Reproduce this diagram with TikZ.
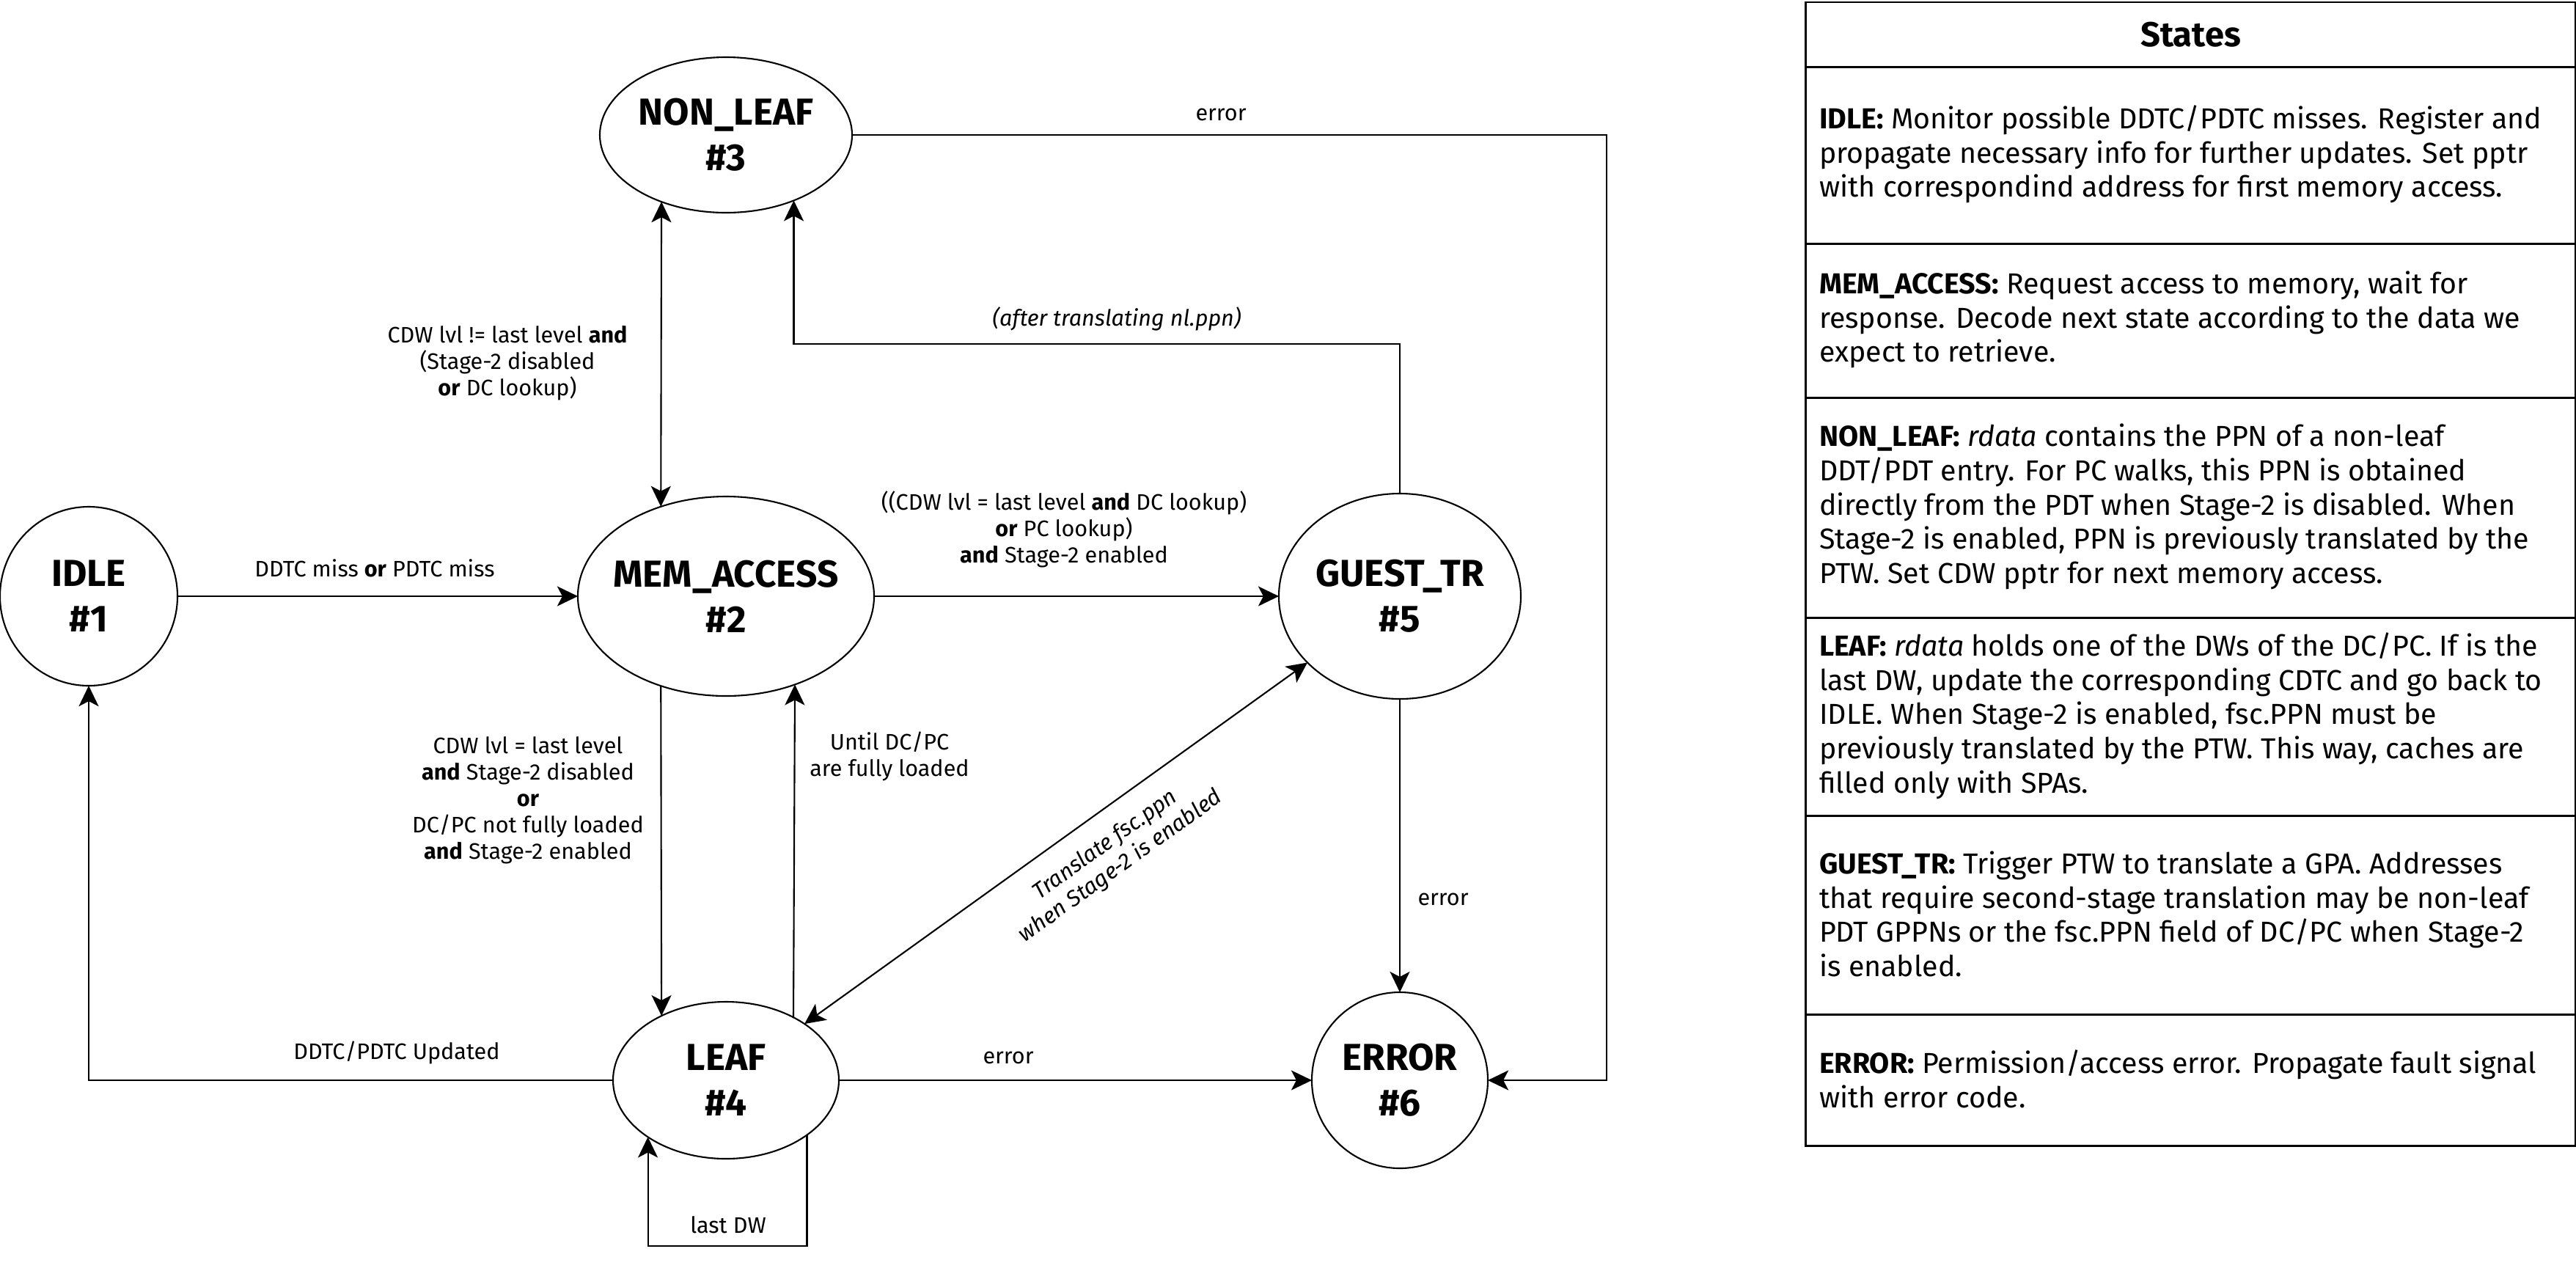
\documentclass[tikz,border=0pt]{standalone}
\usepackage{fontspec}
\setmainfont{Fira Sans}
\usetikzlibrary{arrows.meta,shapes.geometric}
\begin{document}
\begin{tikzpicture}[x=1cm,y=-1cm,
  >={Stealth[length=8pt,width=7.7pt,inset=2pt]},
  line width=0.6pt,
  st/.style={ellipse,draw,line width=0.6pt,inner sep=0pt,outer sep=0pt},
  stt/.style={font=\fontsize{14.6}{17.6}\selectfont\bfseries,align=center,inner sep=0pt},
  lbl/.style={font=\fontsize{8.7}{10.24}\selectfont,align=center,inner sep=0pt},
  rowbox/.style={draw,line width=0.85pt,rectangle,anchor=north west,minimum width=10.50cm,inner sep=0pt},
  rowtxt/.style={anchor=west,align=left,inner sep=0pt,font=\fontsize{11.2}{13.29}\selectfont},
]
\useasboundingbox (0,0) rectangle (35.13,17.28);

% states
\node[st,minimum width=2.42cm,minimum height=2.44cm] (idle) at (1.21,8.13) {};
\node[stt] (idle-t) at (idle) {IDLE\\\#1};
\node[st,minimum width=4.04cm,minimum height=2.72cm] (mem) at (9.90,8.13) {};
\node[stt] (mem-t) at (mem) {MEM\_ACCESS\\\#2};
\node[st,minimum width=3.44cm,minimum height=2.12cm] (nl) at (9.90,1.84) {};
\node[stt] (nl-t) at (nl) {NON\_LEAF\\\#3};
\node[st,minimum width=3.08cm,minimum height=2.14cm] (leaf) at (9.90,14.73) {};
\node[stt] (leaf-t) at (leaf) {LEAF\\\#4};
\node[st,minimum width=3.30cm,minimum height=2.80cm] (guest) at (19.09,8.13) {};
\node[stt] (guest-t) at (guest) {GUEST\_TR\\\#5};
\node[st,minimum width=2.40cm,minimum height=2.40cm] (err) at (19.09,14.73) {};
\node[stt] (err-t) at (err) {ERROR\\\#6};

% helper coordinates
\coordinate (c1) at (15.00,4.69);
\coordinate (c2) at (21.91,1.84);
\coordinate (lp) at (9.90,16.99);

% connectors
\draw[->] (idle) -- (mem);
\draw[<->] (mem.126.1) -- (nl.-134.5);
\draw[->] (mem.-126.1) -- (leaf.135.55);
\draw[->] (leaf.43.0) -- (mem.-52.8);
\draw[->] (guest.north) |- (c1) -| (nl.-44.2);
\draw[->] (nl.east) -- (c2) |- (err.east);
\draw[->] (mem) -- (guest);
\draw[<->] (leaf) -- (guest);
\draw[->] (guest) -- (err);
\draw[->] (leaf) -- (err);
\draw[->] (leaf.west) -| (idle.south);
\draw[->] (leaf.-34.7) |- (lp) -| (leaf.-144.8);

% labels
\node[lbl] (l-miss) at (5.11,7.75) {DDTC miss \textbf{or} PDTC miss};
\node[lbl] (l-nl) at (6.92,4.95) {CDW lvl != last level \textbf{and}\\(Stage-2 disabled\\\textbf{or} DC lookup)};
\node[lbl,font=\fontsize{8.7}{10.24}\selectfont\itshape] (l-after) at (15.23,4.35) {(after translating nl.ppn)};
\node[lbl] (l-err1) at (16.65,1.56) {error};
\node[lbl] (l-gt) at (14.51,7.22) {((CDW lvl = last level \textbf{and} DC lookup)\\\textbf{or} PC lookup)\\\textbf{and} Stage-2 enabled};
\node[lbl] (l-leaf) at (7.20,10.91) {CDW lvl = last level\\\textbf{and} Stage-2 disabled\\\textbf{or}\\DC/PC not fully loaded\\\textbf{and} Stage-2 enabled};
\node[lbl] (l-until) at (12.13,10.31) {Until DC/PC\\are fully loaded};
\node[lbl,font=\fontsize{8.7}{10.24}\selectfont\itshape,rotate=35.6] (l-diag) at (15.18,11.67) {Translate fsc.ppn\\when Stage-2 is enabled};
\node[lbl] (l-err2) at (19.68,12.26) {error};
\node[lbl] (l-err3) at (13.75,14.42) {error};
\node[lbl] (l-upd) at (5.41,14.35) {DDTC/PDTC Updated};
\node[lbl] (l-last) at (9.93,16.70) {last DW};

% table
\node[rowbox,minimum height=0.89cm] (r0) at (24.61,0.015) {};
\node[font=\fontsize{13.4}{16}\selectfont\bfseries,inner sep=0pt] (r0-t) at (r0) {States};
\node[rowbox,minimum height=2.41cm] (r1) at (24.61,0.90) {};
\node[rowtxt] (r1-t) at (24.80,2.105) {\textbf{IDLE:} Monitor possible DDTC/PDTC misses. Register and\\propagate necessary info for further updates. Set pptr\\with correspondind address for first memory access.};
\node[rowbox,minimum height=2.10cm] (r2) at (24.61,3.31) {};
\node[rowtxt] (r2-t) at (24.80,4.36) {\textbf{MEM\_ACCESS:} Request access to memory, wait for\\response. Decode next state according to the data we\\expect to retrieve.};
\node[rowbox,minimum height=3.00cm] (r3) at (24.61,5.41) {};
\node[rowtxt] (r3-t) at (24.80,6.91) {\textbf{NON\_LEAF:} \textit{rdata} contains the PPN of a non-leaf\\DDT/PDT entry. For PC walks, this PPN is obtained\\directly from the PDT when Stage-2 is disabled. When\\Stage-2 is enabled, PPN is previously translated by the\\PTW. Set CDW pptr for next memory access.};
\node[rowbox,minimum height=2.70cm] (r4) at (24.61,8.41) {};
\node[rowtxt] (r4-t) at (24.80,9.76) {\textbf{LEAF:} \textit{rdata} holds one of the DWs of the DC/PC. If is the\\last DW, update the corresponding CDTC and go back to\\IDLE. When Stage-2 is enabled, fsc.PPN must be\\previously translated by the PTW. This way, caches are\\filled only with SPAs.};
\node[rowbox,minimum height=2.71cm] (r5) at (24.61,11.11) {};
\node[rowtxt] (r5-t) at (24.80,12.465) {\textbf{GUEST\_TR:} Trigger PTW to translate a GPA. Addresses\\that require second-stage translation may be non-leaf\\PDT GPPNs or the fsc.PPN field of DC/PC when Stage-2\\is enabled.};
\node[rowbox,minimum height=1.79cm] (r6) at (24.61,13.82) {};
\node[rowtxt] (r6-t) at (24.80,14.715) {\textbf{ERROR:} Permission/access error. Propagate fault signal\\with error code.};
\end{tikzpicture}
\end{document}
